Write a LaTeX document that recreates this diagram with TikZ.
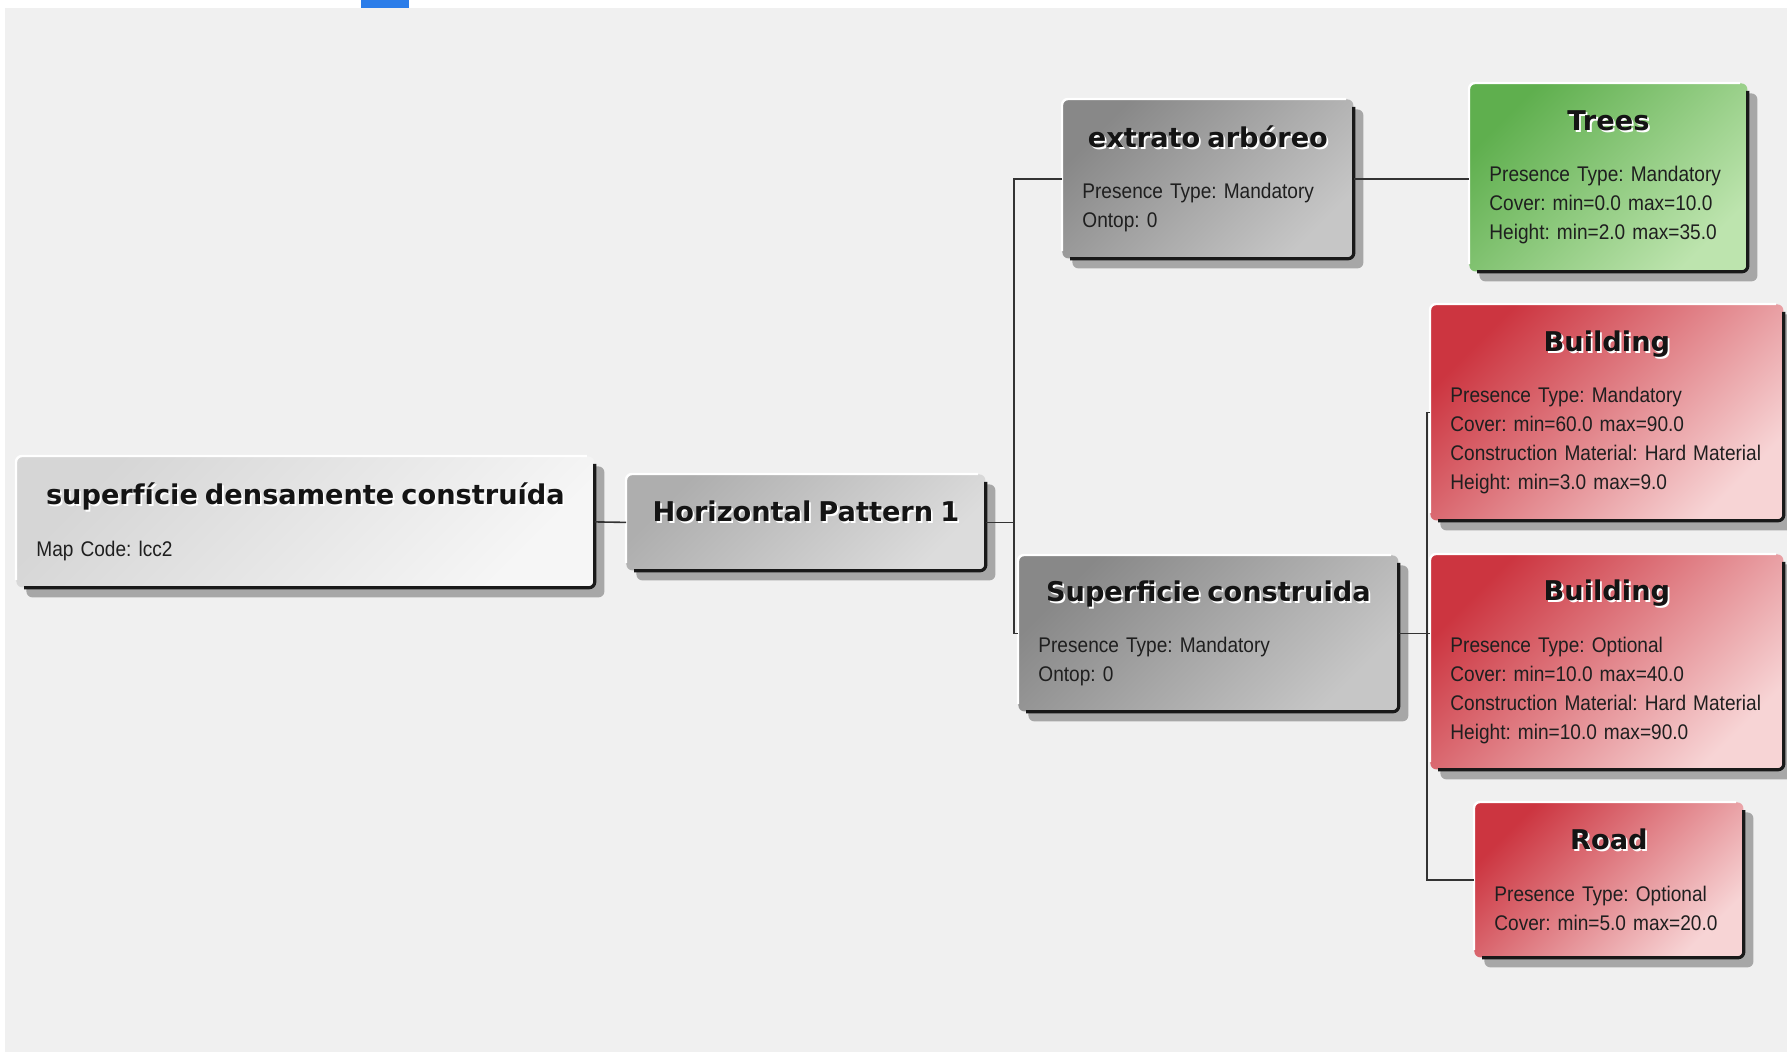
\documentclass[tikz,border=0pt]{standalone}
\usepackage{fontspec}
\setmainfont{Liberation Sans}
\newfontfamily\narrowfont{Liberation Sans}[FakeStretch=0.9]
\newfontfamily\heavyfont{DejaVu Sans}
\usetikzlibrary{shadows}
\setlength\parindent{0pt}
\frenchspacing
\definecolor{pagegrey}{HTML}{F0F0F0}
\definecolor{tabblue}{HTML}{2B7DE9}
\definecolor{paleA}{HTML}{D6D6D6}
\definecolor{paleB}{HTML}{F6F6F6}
\definecolor{midA}{HTML}{AEAEAE}
\definecolor{midB}{HTML}{DCDCDC}
\definecolor{darkA}{HTML}{888888}
\definecolor{darkB}{HTML}{C6C6C6}
\definecolor{leafA}{HTML}{5FAF4E}
\definecolor{leafB}{HTML}{BDE4AE}
\definecolor{brickA}{HTML}{CC3540}
\definecolor{brickB}{HTML}{F7D4D5}
\newcommand\boxtitle[1]{{\heavyfont\fontsize{13.6}{17}\selectfont\bfseries\color{black!92}\rlap{\hspace{0.9pt}\raisebox{-0.9pt}{\color{white}#1}}#1}}
\tikzset{
  featbox/.style={rectangle, rounded corners=3pt, anchor=north west, inner xsep=10pt, inner ysep=0pt,
    align=left, font=\narrowfont\fontsize{10.6}{14.5}\selectfont\frenchspacing, text=black!88,
    drop shadow={shadow xshift=5pt, shadow yshift=-5pt, opacity=.3, fill=black}},
  tint/.style 2 args={top color=#1, bottom color=#2, shading angle=45},
  rim/.style={draw=black!90, line width=1.6pt, rounded corners=3pt},
  glint/.style={draw=white, line width=1.2pt, rounded corners=3pt},
  link/.style={draw=black!80, line width=0.8pt}
}
\begin{document}
\begin{tikzpicture}[x=0.5pt, y=-0.5pt]
        \useasboundingbox (0,0) rectangle (1787,1052);
        \fill[pagegrey] (5,8) rectangle (1787,1052);
        \fill[tabblue] (361,0) rectangle (409,8);
        % pattern tree
        \node[featbox, tint={paleA}{paleB}, text width=269pt, minimum height=65.5pt] (sdc) at (16,456)
            {{\centering\boxtitle{superfície densamente construída}\par}\vspace{11.3pt}Map Code: lcc2};
        \node[featbox, tint={midA}{midB}, text width=159.5pt, minimum height=48pt] (hp) at (626,474)
            {{\centering\raisebox{5pt}[\height][\depth]{\boxtitle{Horizontal Pattern 1}}\par}};
        \node[featbox, tint={darkA}{darkB}, text width=125.5pt, minimum height=79.5pt] (ext) at (1062,99)
            {{\centering\boxtitle{extrato arbóreo}\par}\vspace{11.3pt}Presence Type: Mandatory\\Ontop: 0};
        \node[featbox, tint={darkA}{darkB}, text width=170pt, minimum height=78pt] (sup) at (1018,555)
            {{\centering\boxtitle{Superficie construida}\par}\vspace{11.3pt}Presence Type: Mandatory\\Ontop: 0};
        \node[featbox, tint={leafA}{leafB}, text width=119pt, minimum height=94pt] (trees) at (1469,83)
            {{\centering\boxtitle{Trees}\par}\vspace{11.3pt}Presence Type: Mandatory\\Cover: min=0.0 max=10.0\\Height: min=2.0 max=35.0};
        \node[featbox, tint={brickA}{brickB}, text width=156.5pt, minimum height=108pt] (bld1) at (1430,304)
            {{\centering\boxtitle{Building}\par}\vspace{11.3pt}Presence Type: Mandatory\\Cover: min=60.0 max=90.0\\Construction Material: Hard Material\\Height: min=3.0 max=9.0};
        \node[featbox, tint={brickA}{brickB}, text width=156.5pt, minimum height=107.5pt] (bld2) at (1430,554)
            {{\centering\boxtitle{Building}\par}\vspace{11.3pt}Presence Type: Optional\\Cover: min=10.0 max=40.0\\Construction Material: Hard Material\\Height: min=10.0 max=90.0};
        \node[featbox, tint={brickA}{brickB}, text width=114.5pt, minimum height=77.5pt] (road) at (1474,802)
            {{\centering\boxtitle{Road}\par}\vspace{11.3pt}Presence Type: Optional\\Cover: min=5.0 max=20.0};
        \foreach \n in {sdc,hp,ext,sup,trees,bld1,bld2,road}{
            \draw[glint] ([yshift=4pt]\n.south west) -- (\n.north west) -- ([xshift=-4pt]\n.north east);
            \draw[rim] ([yshift=-4pt]\n.north east) -- (\n.south east) -- ([xshift=4pt]\n.south west);
        }
        \draw[link] (sdc.east) -- (hp.west);
        \draw[link] (hp.east) -- ++(28,0) coordinate (j1);
        \draw[link] (ext.west) -| (j1) |- (sup.west);
        \draw[link] (ext.east) -- (ext.east -| trees.west);
        \draw[link] (sup.east) -- ++(28,0) coordinate (j2) -- (sup.east -| bld2.west);
        \draw[link] (bld1.west) -| (j2) |- (road.west);
\end{tikzpicture}
\end{document}
